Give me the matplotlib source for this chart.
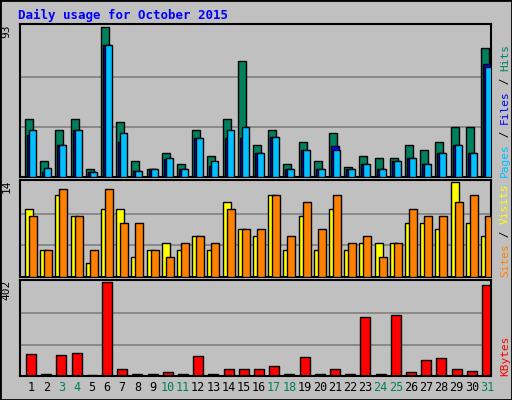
import numpy as np
import matplotlib
matplotlib.use("Agg")
from matplotlib import pyplot as plt
from matplotlib.patches import Rectangle

days = np.arange(1, 32)
weekend = [3, 4, 10, 11, 17, 18, 24, 25, 31]

hits = [36, 10, 29, 36, 5, 93, 34, 10, 5, 15, 8, 29, 13, 36, 72, 20,
        29, 8, 22, 10, 27, 6.5, 13, 12, 12, 20, 17, 22, 31, 31, 80]
files = [26, 3, 20, 29, 3, 82, 22, 4, 5, 11, 5, 24, 7, 24, 24, 15,
         25, 5, 17, 5, 19, 5, 8, 5, 10, 12, 8, 15, 20, 15, 70]
pages = [29, 5.5, 20, 29, 3, 82, 27, 4, 5, 12, 5, 24, 10, 29, 31, 15,
         25, 5, 17, 5, 17, 5, 8, 5, 10, 12, 8, 15, 20, 15, 68]
visits = [10, 4, 12, 9, 2, 10, 10, 3, 4, 5, 4, 6, 4, 11, 7, 6,
          12, 4, 9, 4, 10, 4, 5, 5, 5, 8, 8, 7, 14, 8, 6]
sites = [9, 4, 13, 9, 4, 13, 8, 8, 4, 3, 5, 6, 5, 10, 7, 7,
         12, 6, 11, 7, 12, 5, 6, 3, 5, 10, 9, 9, 11, 12, 9]
kbytes = [94, 10, 89, 98, 4, 402, 32, 10, 10, 15, 10, 85, 10, 32, 32, 28,
          41, 10, 80, 10, 28, 10, 251, 10, 260, 19, 67, 76, 32, 23, 387]

W, H = 512, 400
BG = "#C0C0C0"
fig = plt.figure(figsize=(W / 100, H / 100), dpi=100, facecolor=BG)
fig.patches.append(Rectangle((0, 0), 1, 1, transform=fig.transFigure,
                             fill=False, ec="black", lw=2))

def px_axes(x0, y0, x1, y1):
    return fig.add_axes([x0 / W, 1 - y1 / H, (x1 - x0) / W, (y1 - y0) / H])

mono = "DejaVu Sans Mono"
step = 15.2  # pixels per day
d = 1 / step
x_lo = 1 - 7 * d
x_hi = x_lo + 471 * d

def setup(ax, top):
    ax.set_facecolor(BG)
    ax.set_xlim(x_lo, x_hi)
    ax.set_ylim(0, top * 1.02)
    for y in (top / 3, top * 2 / 3):
        ax.axhline(y, color="#808080", lw=1.2, zorder=0)
    ax.set_xticks([])
    ax.set_yticks([])
    for s in ax.spines.values():
        s.set_color("black")
        s.set_linewidth(1.5)

# top panel: hits / files / pages
ax1 = px_axes(20, 24, 491, 177)
setup(ax1, 93)
ax1.bar(days - 2 * d, hits, width=8 * d, color="#00805C", ec="black", lw=1, align="edge", zorder=2)
ax1.bar(days, files, width=8 * d, color="#0000FF", ec="black", lw=1, align="edge", zorder=3)
ax1.bar(days + 2 * d, pages, width=7 * d, color="#00C0FF", ec="black", lw=1, align="edge", zorder=4)

# middle panel: visits / sites
ax2 = px_axes(20, 180, 491, 277)
setup(ax2, 14)
ax2.bar(days - 2 * d, visits, width=8 * d, color="#FFFF00", ec="black", lw=1, align="edge", zorder=2)
ax2.bar(days + 2 * d, sites, width=8 * d, color="#FF8000", ec="black", lw=1, align="edge", zorder=3)

# bottom panel: kbytes
ax3 = px_axes(20, 280, 491, 376)
setup(ax3, 402)
ax3.bar(days - 1 * d, kbytes, width=10 * d, color="#FF0000", ec="black", lw=1, align="edge", zorder=2)

fig.text(18 / W, 1 - 15 / H, "Daily usage for October 2015", color="#0000FF",
         family=mono, weight="bold", fontsize=9, va="center")

for ax, lab in ((ax1, "93"), (ax2, "14"), (ax3, "402")):
    ax.text(-0.018, 1.0, lab, transform=ax.transAxes, rotation=90, family=mono,
            fontsize=8, ha="right", va="top")

for day in days:
    ax3.text(day + 4 * d, -0.05, str(day), transform=ax3.get_xaxis_transform(),
             ha="center", va="top", family=mono, fontsize=8.5,
             color="#00805C" if day in weekend else "black")

def side_label(ax, parts):
    y = 0.0
    for txt, col in parts:
        ax.text(1.03, y, txt, transform=ax.transAxes, rotation=90, family=mono,
                fontsize=8, color=col, ha="center", va="bottom")
        y += len(txt) * 6.6 / (ax.get_position().height * H)

side_label(ax1, [("Pages", "#00C0FF"), (" / ", "black"), ("Files", "#0000FF"),
                 (" / ", "black"), ("Hits", "#00805C")])
side_label(ax2, [("Sites", "#FF8000"), (" / ", "black"), ("Visits", "#FFFF00")])
side_label(ax3, [("KBytes", "#FF0000")])

fig.savefig("out.png", dpi=100, facecolor=BG)
